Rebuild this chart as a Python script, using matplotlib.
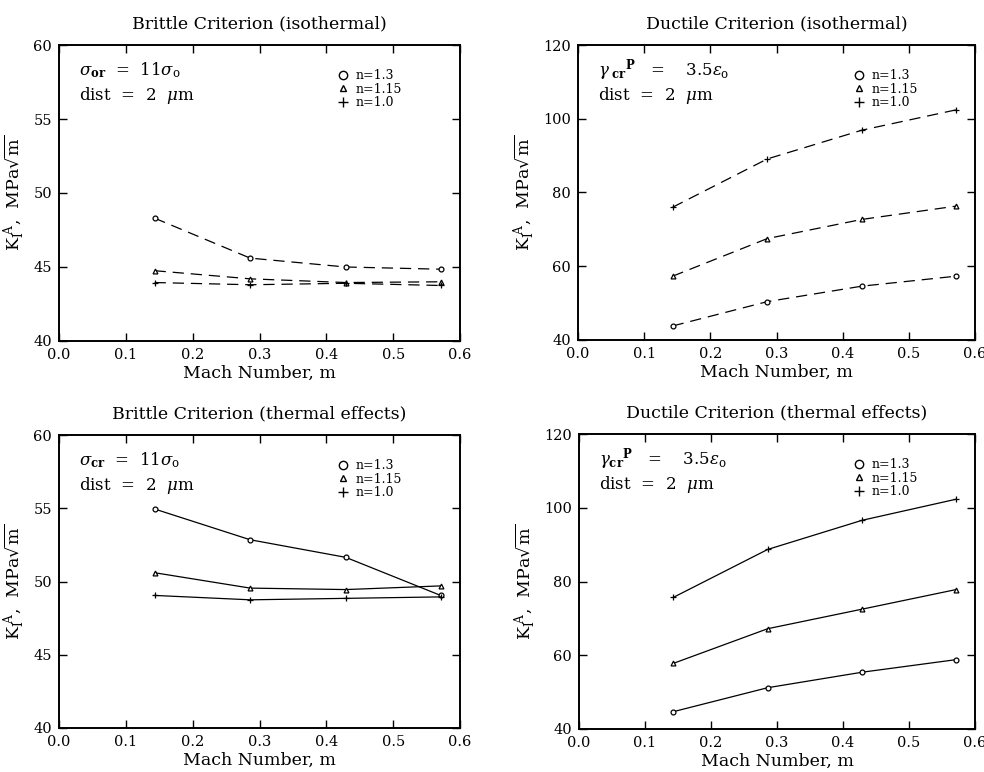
import matplotlib
matplotlib.use("Agg")
import matplotlib.pyplot as plt
from matplotlib.lines import Line2D

# Mach numbers at which K_I^A was computed
mach = [0.143, 0.286, 0.429, 0.571]

# Brittle criterion, isothermal
brittle_iso_n13 = [48.3, 45.6, 45.0, 44.85]
brittle_iso_n115 = [44.75, 44.2, 43.95, 44.0]
brittle_iso_n10 = [43.95, 43.8, 43.9, 43.75]

# Ductile criterion, isothermal
ductile_iso_n13 = [43.8, 50.4, 54.6, 57.3]
ductile_iso_n115 = [57.3, 67.5, 72.7, 76.3]
ductile_iso_n10 = [76.0, 89.1, 96.9, 102.4]

# Brittle criterion, thermal effects
brittle_th_n13 = [54.95, 52.85, 51.65, 49.05]
brittle_th_n115 = [50.6, 49.55, 49.45, 49.7]
brittle_th_n10 = [49.05, 48.75, 48.85, 48.95]

# Ductile criterion, thermal effects
ductile_th_n13 = [44.7, 51.2, 55.4, 58.8]
ductile_th_n115 = [57.8, 67.2, 72.5, 77.8]
ductile_th_n10 = [75.7, 88.7, 96.6, 102.3]

series_labels = ["n=1.3", "n=1.15", "n=1.0"]
x_ticks = [0.0, 0.1, 0.2, 0.3, 0.4, 0.5, 0.6]
brittle_yticks = [40, 45, 50, 55, 60]
ductile_yticks = [40, 60, 80, 100, 120]

plt.rcParams["font.family"] = ["DejaVu Serif"]
plt.rcParams["mathtext.fontset"] = "dejavuserif"

fig = plt.figure(figsize=(9.84, 7.72), dpi=100)

panels = [
    dict(rect=[0.060, 0.5583, 0.4075, 0.3834],
         title="Brittle Criterion (isothermal)",
         data=[brittle_iso_n13, brittle_iso_n115, brittle_iso_n10],
         yticks=brittle_yticks, dashed=True,
         note=[r"$\sigma_{\mathbf{or}}$  =  11$\sigma_{\rm o}$", r"dist  =  2  $\mu$m"]),
    dict(rect=[0.5874, 0.5596, 0.4035, 0.3821],
         title="Ductile Criterion (isothermal)",
         data=[ductile_iso_n13, ductile_iso_n115, ductile_iso_n10],
         yticks=ductile_yticks, dashed=True,
         note=[r"$\gamma_{\ \mathbf{cr}}{}^{\mathbf{P}}$   =    3.5$\varepsilon_{\rm o}$", r"dist  =  2  $\mu$m"]),
    dict(rect=[0.060, 0.0570, 0.4075, 0.3795],
         title="Brittle Criterion (thermal effects)",
         data=[brittle_th_n13, brittle_th_n115, brittle_th_n10],
         yticks=brittle_yticks, dashed=False,
         note=[r"$\sigma_{\mathbf{cr}}$  =  11$\sigma_{\rm o}$", r"dist  =  2  $\mu$m"]),
    dict(rect=[0.5884, 0.0557, 0.4024, 0.3821],
         title="Ductile Criterion (thermal effects)",
         data=[ductile_th_n13, ductile_th_n115, ductile_th_n10],
         yticks=ductile_yticks, dashed=False,
         note=[r"$\gamma_{\mathbf{cr}}{}^{\mathbf{P}}$   =    3.5$\varepsilon_{\rm o}$", r"dist  =  2  $\mu$m"]),
]

markers = ["o", "^", "+"]
msizes = [3.5, 3.5, 5]

for p in panels:
    ax = fig.add_axes(p["rect"])
    for vals, mk, ms in zip(p["data"], markers, msizes):
        ls = (0, (9, 5.5)) if p["dashed"] else "-"
        ax.plot(mach, vals, color="black", lw=0.9, linestyle=ls,
                marker=mk, markersize=ms, markerfacecolor="white",
                markeredgecolor="black", markeredgewidth=0.9)
    ax.set_xlim(0.0, 0.6)
    ax.set_ylim(p["yticks"][0], p["yticks"][-1])
    ax.set_xticks(x_ticks)
    ax.set_xticklabels([f"{t:.1f}" for t in x_ticks])
    ax.set_yticks(p["yticks"])
    ax.tick_params(direction="in", top=True, right=True, length=6,
                   width=1.0, labelsize=10.5, pad=5)
    for s in ax.spines.values():
        s.set_linewidth(1.4)
    ax.set_title(p["title"], fontsize=12.5, pad=12)
    ax.set_xlabel("Mach Number, m", fontsize=12.5, labelpad=2)
    ax.set_ylabel(r"K$_{\rm I}^{\ \rm A}$,  MPa$\sqrt{\rm m}$", fontsize=12.5, labelpad=4)
    ax.text(0.05, 0.915, p["note"][0], transform=ax.transAxes,
            fontsize=12, va="center", ha="left")
    ax.text(0.05, 0.828, p["note"][1], transform=ax.transAxes,
            fontsize=12, va="center", ha="left")
    handles = [Line2D([], [], linestyle="none", marker=mk, markersize=m2,
                      markerfacecolor="white", markeredgecolor="black",
                      markeredgewidth=1.0)
               for mk, m2 in zip(markers, [6, 5, 7])]
    ax.legend(handles, series_labels, loc="upper left",
              bbox_to_anchor=(0.68, 0.935), frameon=False, fontsize=9,
              handlelength=1.0, handletextpad=0.5, labelspacing=0.05,
              borderaxespad=0.0)

fig.savefig("out.png", dpi=100)
